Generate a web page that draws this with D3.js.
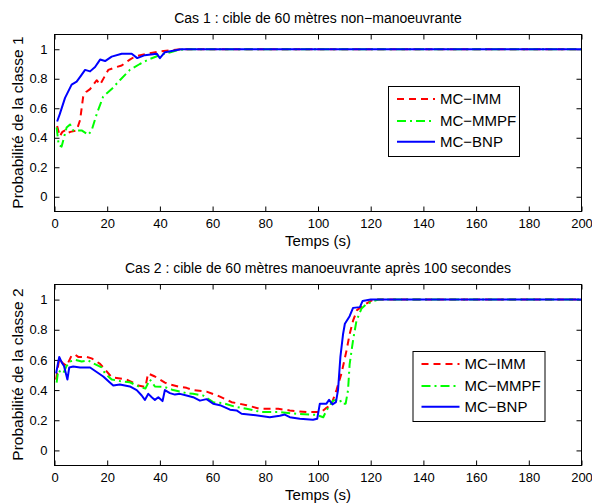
<!DOCTYPE html>
<html><head><meta charset="utf-8">
<script src="https://cdn.jsdelivr.net/npm/d3@7"></script>
<style>body{margin:0;background:#fff}svg{display:block;font-family:"Liberation Sans",Arial,sans-serif}</style>
</head><body><svg id="c" width="592" height="504"></svg>
<script>
// ---------- data ----------
const seriesNames = ["MC\u2212IMM", "MC\u2212MMPF", "MC\u2212BNP"];
const xTicks = [0,20,40,60,80,100,120,140,160,180,200];
const yTicks = [0,0.2,0.4,0.6,0.8,1];
const titles = ["Cas 1 : cible de 60 m\u00e8tres non\u2212manoeuvrante",
                "Cas 2 : cible de 60 m\u00e8tres manoeuvrante apr\u00e8s 100 secondes"];
const yLabels = ["Probabilit\u00e9 de la classe 1", "Probabilit\u00e9 de la classe 2"];
const xLabel = "Temps (s)";

// Case 1
const c1_imm_t = [1,2,3,4,5,6,8.4,9.7,10.9,12,13.5,16,17.3,20.4,23.6,25.5,28.6,30.5,35,40,45,48,200];
const c1_imm_v = [0.48,0.41,0.44,0.45,0.43,0.44,0.45,0.52,0.68,0.71,0.73,0.79,0.76,0.86,0.88,0.89,0.93,0.95,0.97,0.985,0.995,1,1];
const c1_mmpf_t = [0.8,1.6,2.7,4.6,5.9,7.1,10.3,12.8,14.1,16,18.5,21.7,24.8,28.6,32.4,35.6,40,44,47,50,200];
const c1_mmpf_v = [0.47,0.35,0.34,0.47,0.49,0.45,0.45,0.42,0.45,0.56,0.68,0.73,0.79,0.86,0.90,0.93,0.96,0.98,0.995,1,1];
const c1_bnp_t = [1,2,4,6.5,8.4,10,11.6,13.5,15.4,17.3,19.2,21.7,25.5,29.3,31.4,34.3,38.8,40,41.9,45,48,200];
const c1_bnp_v = [0.51,0.56,0.67,0.76,0.78,0.82,0.86,0.85,0.88,0.93,0.92,0.95,0.97,0.97,0.94,0.96,0.97,0.94,0.98,0.99,1,1];

// Case 2
const c2_imm_t = [0.6,1.8,3,4.6,6.5,7.8,9,12.2,14.1,17.3,18.5,21.7,23.6,27.4,28.6,31.8,34.5,35.5,38.1,41.9,43.2,46.9,50.1,52.6,57.7,62.8,67.2,72.9,77.9,84.9,89.3,95.6,101.3,103,105,107,108.9,110.8,112,113.3,114.8,117.1,119,121,200];
const c2_imm_v = [0.47,0.61,0.58,0.56,0.63,0.636,0.62,0.62,0.61,0.574,0.55,0.485,0.48,0.47,0.46,0.43,0.42,0.51,0.49,0.45,0.44,0.424,0.415,0.40,0.39,0.357,0.32,0.30,0.276,0.276,0.265,0.254,0.254,0.28,0.30,0.40,0.51,0.66,0.77,0.86,0.93,0.96,0.98,1,1];
const c2_mmpf_t = [0.8,1.4,3.3,4.6,5.9,7.8,10.3,12.8,14.7,17.9,19.2,21.7,24.8,28.6,32.4,34.5,36.2,38.1,41.9,45,47.6,50.1,52.6,56.4,60.2,64,68.4,72.9,78.6,85.5,91.8,99.4,102,103.2,105.7,108.3,108.9,110.5,111.4,112,113.3,114.6,116.5,118.4,121,123,200];
const c2_mmpf_v = [0.45,0.53,0.51,0.56,0.59,0.60,0.59,0.596,0.578,0.55,0.51,0.47,0.46,0.452,0.42,0.41,0.47,0.424,0.42,0.40,0.39,0.38,0.375,0.364,0.32,0.313,0.29,0.276,0.254,0.254,0.243,0.236,0.22,0.265,0.33,0.34,0.31,0.31,0.40,0.57,0.73,0.86,0.94,0.97,0.99,1,1];
const c2_bnp_t = [0.6,1.8,2.7,3.6,4.9,5.6,7.1,9.7,13.5,16,18.5,21,22.3,24.8,28.6,31.2,33.1,34.3,35.6,36.9,38.1,39.4,41,41.9,43.8,45.7,47.6,50.1,52.6,55.2,57.7,60.2,62.8,66.6,69.1,71,75.4,81.7,85.5,87.4,89.3,93.1,98.1,99.7,100.7,103.2,104.2,105.5,106.8,107.6,108.5,109.5,110.2,112,113.3,115.9,116.9,120,200];
const c2_bnp_v = [0.51,0.62,0.585,0.56,0.47,0.55,0.556,0.55,0.55,0.52,0.49,0.45,0.43,0.437,0.424,0.40,0.364,0.335,0.375,0.353,0.335,0.353,0.327,0.40,0.38,0.37,0.375,0.364,0.353,0.33,0.34,0.31,0.30,0.27,0.265,0.243,0.235,0.22,0.23,0.238,0.22,0.21,0.203,0.21,0.31,0.31,0.335,0.305,0.32,0.40,0.62,0.77,0.84,0.89,0.945,0.95,0.99,1,1];

// ---------- drawing ----------
const colors = ["#ff0000", "#00ff00", "#0000ff"];
const dashes = ["7,5", "9,4,2,4", null];
const zip = (t, v) => t.map((d, i) => [d, v[i]]);
const panels = [
  {top: 34, bottom: 211, series: [zip(c1_imm_t,c1_imm_v), zip(c1_mmpf_t,c1_mmpf_v), zip(c1_bnp_t,c1_bnp_v)],
   legend: {x: 388, y: 86, w: 131, h: 70}},
  {top: 284, bottom: 465, series: [zip(c2_imm_t,c2_imm_v), zip(c2_mmpf_t,c2_mmpf_v), zip(c2_bnp_t,c2_bnp_v)],
   legend: {x: 412.5, y: 351, w: 132, h: 70}}
];
const svg = d3.select("#c");
const x = d3.scaleLinear().domain([0, 200]).range([54.5, 581.5]);

panels.forEach((p, k) => {
  const y = d3.scaleLinear().domain([-0.1, 1.1]).range([p.bottom + 0.5, p.top + 0.5]);
  const g = svg.append("g");
  const cid = "clip" + k;
  g.append("clipPath").attr("id", cid).append("rect")
    .attr("x", 54.5).attr("y", p.top + 0.5).attr("width", 527).attr("height", p.bottom - p.top);

  const fmt = d => d3.format("~g")(d);
  const ax = (a, tr) => g.append("g").attr("transform", tr).call(a)
      .call(s => s.select(".domain").remove())
      .call(s => s.selectAll("line").attr("stroke", "#000"))
      .call(s => s.selectAll("text").attr("fill", "#000").style("font-size", "13px").style("font-family", '"Liberation Sans",Arial,sans-serif'));
  ax(d3.axisBottom(x).tickValues(xTicks).tickSize(-5).tickSizeOuter(0).tickPadding(7).tickFormat(fmt), `translate(0,${p.bottom + 0.5})`);
  ax(d3.axisTop(x).tickValues(xTicks).tickSize(-5).tickSizeOuter(0).tickFormat(""), `translate(0,${p.top + 0.5})`);
  ax(d3.axisLeft(y).tickValues(yTicks).tickSize(-5).tickSizeOuter(0).tickPadding(7).tickFormat(fmt), `translate(54.5,0)`);
  ax(d3.axisRight(y).tickValues(yTicks).tickSize(-5).tickSizeOuter(0).tickFormat(""), `translate(581.5,0)`);

  const line = d3.line().x(d => x(d[0])).y(d => y(d[1]));
  p.series.forEach((s, i) => {
    g.append("path").attr("clip-path", `url(#${cid})`).datum(s).attr("d", line)
      .attr("fill", "none").attr("stroke", colors[i]).attr("stroke-width", 2)
      .attr("stroke-linejoin", "round").attr("stroke-dasharray", dashes[i]);
  });

  g.append("rect").attr("x", 54.5).attr("y", p.top + 0.5).attr("width", 527).attr("height", p.bottom - p.top)
    .attr("fill", "none").attr("stroke", "#000").attr("stroke-width", 1);

  g.append("text").attr("x", 318).attr("y", p.top - 11).attr("text-anchor", "middle")
    .style("font-size", "14px").text(titles[k]);
  g.append("text").attr("x", 318).attr("y", p.bottom + 35).attr("text-anchor", "middle")
    .style("font-size", "15px").text(xLabel);
  g.append("text").attr("transform", `translate(23,${(p.top + p.bottom) / 2}) rotate(-90)`)
    .attr("text-anchor", "middle").style("font-size", "15.5px").text(yLabels[k]);

  // legend
  const L = p.legend;
  const lg = g.append("g");
  lg.append("rect").attr("x", L.x + 0.5).attr("y", L.y + 0.5).attr("width", L.w).attr("height", L.h)
    .attr("fill", "#fff").attr("stroke", "#000");
  const rowsY = [13, 35, 55.7];
  seriesNames.forEach((n, i) => {
    const yy = L.y + rowsY[i];
    lg.append("line").attr("x1", L.x + 9).attr("x2", L.x + 47).attr("y1", yy).attr("y2", yy)
      .attr("stroke", colors[i]).attr("stroke-width", 2).attr("stroke-dasharray", dashes[i]);
    lg.append("text").attr("x", L.x + 52).attr("y", yy).attr("dy", "0.36em")
      .style("font-size", "15px").text(n);
  });
});
</script></body></html>
